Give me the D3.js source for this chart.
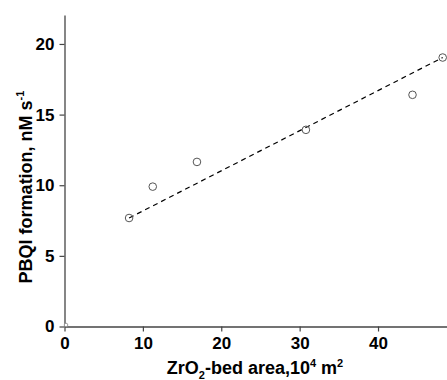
<!DOCTYPE html>
<html><head><meta charset="utf-8">
<script src="https://cdn.jsdelivr.net/npm/d3@7"></script>
<style>body{margin:0;background:#fff}svg{display:block}text{font-family:"Liberation Sans",Arial,sans-serif;font-weight:bold;fill:#000}</style>
</head><body>
<script>
const areaX = [8.24, 11.26, 16.9, 30.8, 44.4, 48.25];
const pbqY = [7.68, 9.9, 11.65, 13.92, 16.4, 19.04];
const fitX = [8.24, 48.25];
const fitY = [7.68, 19.04];
const xTicks = [0, 10, 20, 30, 40];
const yTicks = [0, 5, 10, 15, 20];

const W = 447, H = 380;
const svg = d3.select("body").append("svg").attr("width", W).attr("height", H);
const x = d3.scaleLinear().domain([0, 48.8]).range([64.5, 447]);
const y = d3.scaleLinear().domain([0, 22.05]).range([326.5, 15]);

const xa = svg.append("g").attr("transform", `translate(0,${y(0)})`)
  .call(d3.axisBottom(x).tickValues(xTicks).tickSize(5).tickPadding(5).tickSizeOuter(0));
const ya = svg.append("g").attr("transform", `translate(${x(0)},0)`)
  .call(d3.axisLeft(y).tickValues(yTicks).tickSize(5).tickPadding(5).tickSizeOuter(0));
[xa, ya].forEach(a => {
  a.select(".domain").attr("stroke", "#444").attr("stroke-width", 1.3);
  a.selectAll(".tick line").attr("stroke", "#444").attr("stroke-width", 1.2);
  a.selectAll(".tick text").style("font-size", "17px").style("font-weight", "bold").attr("fill", "#000");
});

// fit line
const line = d3.line().x(d => x(d[0])).y(d => y(d[1]));
svg.append("path").datum(fitX.map((v, i) => [v, fitY[i]]))
  .attr("d", line).attr("fill", "none").attr("stroke", "#000")
  .attr("stroke-width", 1.2).attr("stroke-dasharray", "5,4");

// points
svg.selectAll("circle.pt").data(areaX.map((v, i) => [v, pbqY[i]])).enter()
  .append("circle").attr("class", "pt")
  .attr("cx", d => x(d[0])).attr("cy", d => y(d[1])).attr("r", 3.8)
  .attr("fill", "none").attr("stroke", "#555").attr("stroke-width", 1);

// origin small marker
svg.append("circle").attr("cx", x(0) + 1.5).attr("cy", y(0) - 1.5).attr("r", 1.8)
  .attr("fill", "#fff").attr("stroke", "#888").attr("stroke-width", 0.8);

// x title
const xt = svg.append("text").attr("x", 255).attr("y", 374).attr("text-anchor", "middle").style("font-size", "18px");
xt.append("tspan").text("ZrO");
xt.append("tspan").attr("dy", 5).style("font-size", "11px").text("2");
xt.append("tspan").attr("dy", -5).text("-bed area,10");
xt.append("tspan").attr("dy", -7).style("font-size", "11px").text("4");
xt.append("tspan").attr("dy", 7).text(" m");
xt.append("tspan").attr("dy", -7).style("font-size", "11px").text("2");

// y title
const yt = svg.append("text").attr("transform", "translate(32,187) rotate(-90)").attr("text-anchor", "middle").style("font-size", "18px");
yt.append("tspan").text("PBQl formation, nM s");
yt.append("tspan").attr("dy", -8).style("font-size", "11px").text("-1");
</script>
</body></html>
